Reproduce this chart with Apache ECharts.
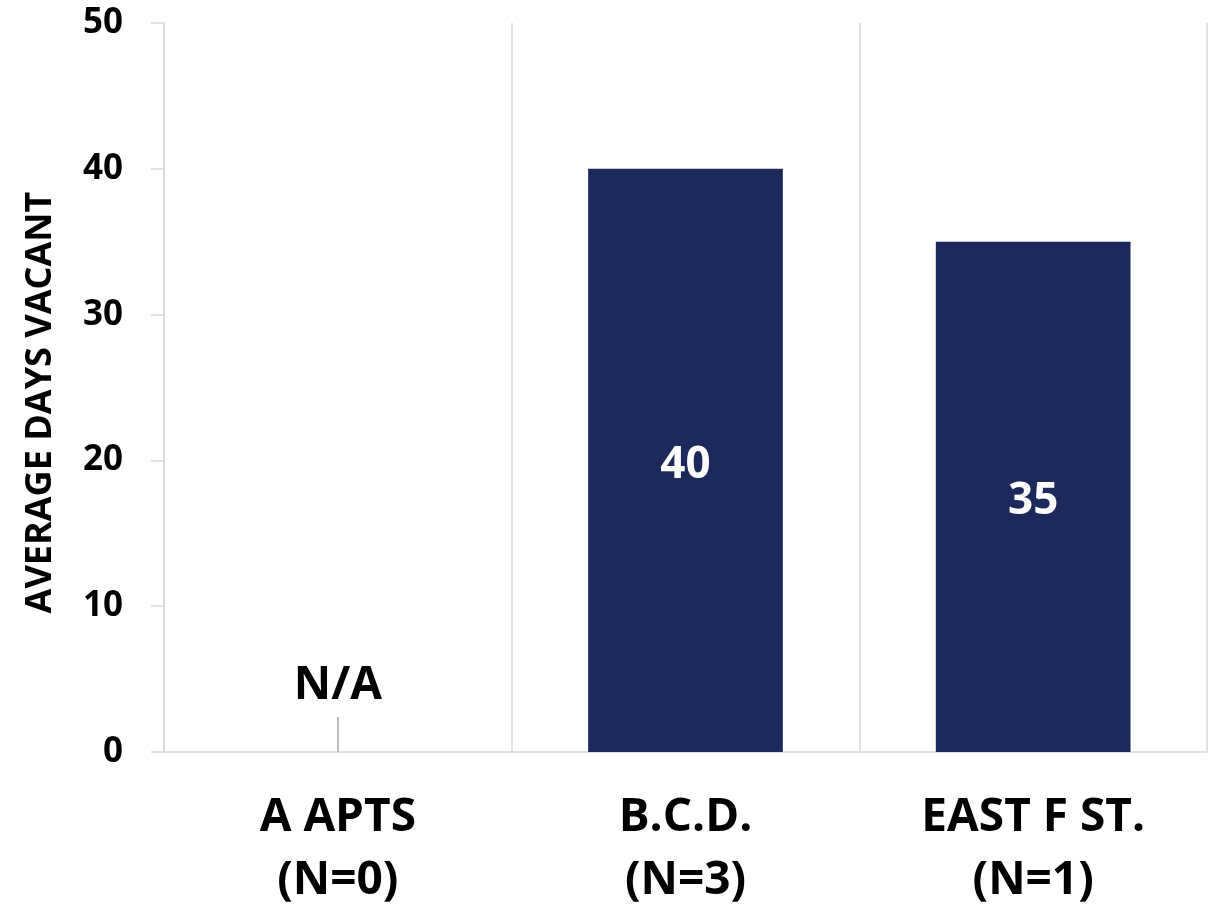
<!DOCTYPE html>
<html>
<head>
<meta charset="utf-8">
<script src="https://cdn.jsdelivr.net/npm/echarts@6/dist/echarts.min.js"></script>
<style>
  html, body { margin: 0; padding: 0; background: #fff; }
  #chart { width: 1211px; height: 912px; }
</style>
</head>
<body>
<div id="chart"></div>
<script>
// Average days vacant by property
const categories = ['A APTS\n(N=0)', 'B.C.D.\n(N=3)', 'EAST F ST.\n(N=1)'];
const daysVacant = [null, 40, 35];
const naLabels = ['N/A', null, null];
const naLeader = [2.4, null, null];   // height of the little N/A pointer
const yTicks = { min: 0, max: 50, interval: 10 };

const FONT = '"Open Sans", sans-serif';
const GRID = '#d9d9d9';
const NAVY = '#1c2a5b';

const chart = echarts.init(document.getElementById('chart'));

chart.setOption({
  animation: false,
  grid: { left: 164, right: 4, top: 23, bottom: 160 },
  xAxis: {
    type: 'category',
    data: categories,
    axisLine: { lineStyle: { color: GRID, width: 1.5 } },
    axisTick: { show: false },
    splitLine: { show: true, lineStyle: { color: GRID, width: 1.5 } },
    axisLabel: {
      color: '#000', fontFamily: FONT, fontWeight: 'bold',
      fontSize: 46, lineHeight: 63, margin: 34,
    },
  },
  yAxis: {
    type: 'value',
    min: yTicks.min, max: yTicks.max, interval: yTicks.interval,
    name: 'AVERAGE DAYS VACANT',
    nameLocation: 'middle',
    nameGap: 105,
    nameTextStyle: {
      color: '#000', fontFamily: FONT, fontWeight: 'bold', fontSize: 36,
      padding: [0, 30, 0, 0],
    },
    axisLine: { show: true, lineStyle: { color: GRID, width: 1.5 } },
    axisTick: { show: true, length: 13, lineStyle: { color: GRID, width: 1.5 } },
    splitLine: { show: false },
    axisLabel: {
      color: '#000', fontFamily: FONT, fontWeight: 'bold',
      fontSize: 35, margin: 41,
    },
  },
  series: [
    {
      type: 'bar',
      data: daysVacant,
      barWidth: '56%',
      itemStyle: { color: NAVY },
      label: {
        show: true, position: 'inside', offset: [0, 5],
        color: '#fff', fontFamily: FONT, fontWeight: 'bold', fontSize: 44,
      },
    },
    {
      type: 'scatter',
      data: naLeader,
      symbolSize: 0,
      itemStyle: { opacity: 1 },
      label: {
        show: true, position: 'top', distance: 8,
        formatter: p => naLabels[p.dataIndex] || '',
        color: '#000', fontFamily: FONT, fontWeight: 'bold', fontSize: 46,
      },
      markLine: {
        silent: true,
        symbol: 'none',
        label: { show: false },
        lineStyle: { color: '#a6a6a6', width: 1.5, type: 'solid' },
        data: [[
          { coord: [0, 0] },
          { coord: [0, naLeader[0]] },
        ]],
      },
    },
  ],
});
</script>
</body>
</html>
